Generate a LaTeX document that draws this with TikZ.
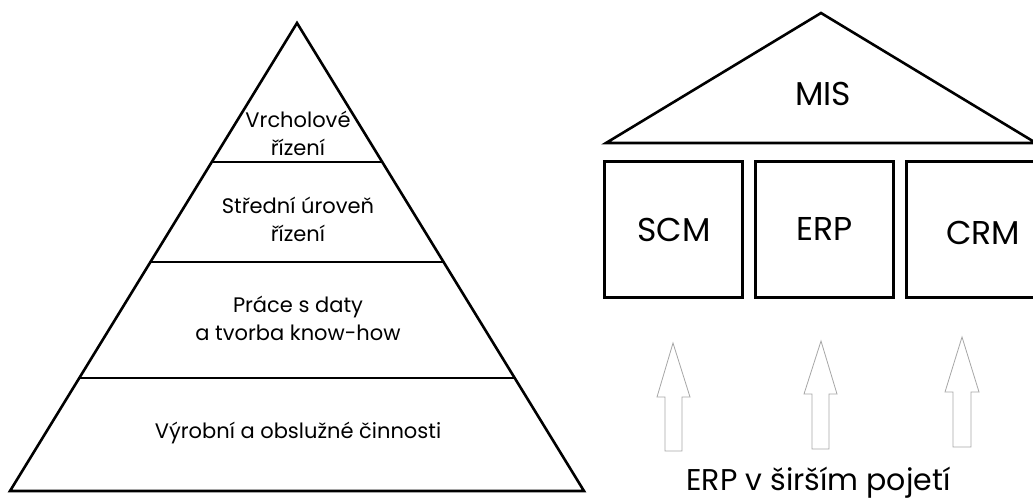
\documentclass[tikz,border=0pt]{standalone}
\usepackage{fontspec}
\setmainfont{Poppins}
\begin{document}
\begin{tikzpicture}[x=1pt,y=-1pt,
  thick line/.style={line width=2.6pt, line join=miter},
  level text/.style={align=center, font=\fontsize{21}{28}\selectfont, inner sep=0pt},
  big text/.style={font=\fontsize{33}{40}\selectfont, inner sep=0pt},
  module/.style={draw, line width=2.6pt, minimum width=138pt, minimum height=136pt, inner sep=0pt},
  hollow arrow/.style={draw=black!35, line width=0.8pt, line join=miter}]
\useasboundingbox (0,0) rectangle (1033,499);
\clip (0,0) rectangle (1033,499);

% management pyramid
\coordinate (apex) at (297,23);
\coordinate (bl) at (10,491);
\coordinate (br) at (584,491);
\draw[thick line] (apex) -- (br) -- (bl) -- cycle;
\draw[thick line] (212,162) -- (382,162);
\draw[thick line] (150,262) -- (444,262);
\draw[thick line] (79,378) -- (515,378);

\node[level text] (top) at (298,133) {Vrcholové\\řízení};
\node[level text] (mid) at (298,219) {Střední úroveň\\řízení};
\node[level text] (data) at (298,318) {Práce s daty\\a tvorba know-how};
\node[level text] (ops) at (298,433) {Výrobní a obslužné činnosti};

% information system house
\coordinate (roofL) at (606,143);
\coordinate (roofT) at (821,13);
\coordinate (roofR) at (1036,143);
\draw[thick line] (roofL) -- (roofT) -- (roofR) -- cycle;
\node[big text] (mis) at (823,94) {MIS};

\node[module] (scm) at (673.3,229.7) {};
\node[module] (erp) at (824.2,229.7) {};
\node[module] (crm) at (975.7,229.7) {};
\node[big text] at (674,230) {SCM};
\node[big text] at (825,229) {ERP};
\node[big text] at (983,233) {CRM};

% outline arrows pointing up to the modules
\draw[hollow arrow] (665,451) -- (665,397) -- (657,397) -- (673,343) -- (690,397) -- (682,397) -- (682,451) -- cycle;
\draw[hollow arrow] (812,449) -- (812,394) -- (804,394) -- (821,341) -- (837,394) -- (829,394) -- (829,449) -- cycle;
\draw[hollow arrow] (953,447) -- (953,392) -- (945,392) -- (962,337) -- (979,392) -- (971,392) -- (971,447) -- cycle;

\node[font=\fontsize{30}{36}\selectfont, inner sep=0pt, anchor=base] (wide) at (818.5,490) {ERP v širším pojetí};
\end{tikzpicture}
\end{document}
